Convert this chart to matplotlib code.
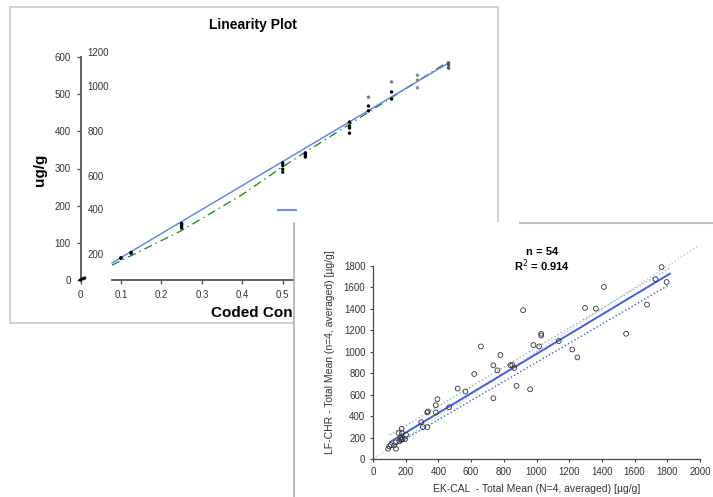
import numpy as np
import matplotlib.pyplot as plt
from matplotlib.patches import Rectangle
from matplotlib.lines import Line2D

# ---- panel 1: Linearity Plot ----
lin_conc = [0.0, 0.005, 0.01, 0.1, 0.1, 0.125, 0.125,
            0.25, 0.25, 0.25, 0.25,
            0.5, 0.5, 0.5, 0.5,
            0.556, 0.556, 0.556, 0.556,
            0.665, 0.665, 0.665, 0.665,
            0.712, 0.712, 0.712,
            0.769, 0.769, 0.769,
            0.833, 0.833, 0.833,
            0.91, 0.91, 0.91]
lin_resp = [0, 3, 5, 58, 60, 72, 74,
            140, 145, 150, 152,
            290, 298, 308, 315,
            331, 335, 338, 342,
            395, 409, 414, 425,
            455, 468, 492,
            487, 506, 533,
            517, 538, 551,
            570, 578, 584]
# first runs are black, the last replicates look grey in the picture
lin_shade = ['k'] * 23 + ['k', 'k', '#777777'] + ['k', 'k', '#777777'] + ['#888888'] * 3 + ['#555555'] * 3
lin_fit_x = [0.078, 0.91]
lin_fit_y = [46, 584]
quad_fit_x = [0.078, 0.25, 0.4, 0.5, 0.665, 0.91]
quad_fit_y = [40, 133, 230, 305, 419, 588]
lin_xticks = [0, 0.1, 0.2, 0.3, 0.4, 0.5, 0.6, 0.7, 0.8, 0.9, 1.0]
lin_yticks = [0, 100, 200, 300, 400, 500, 600]
sec_labels = ['1200', '1000', '800', '600', '400', '200']
sec_label_pos = [611, 519, 398, 277, 188, 67]

# ---- panel 2: method comparison ----
ek_cal = [1765, 1728, 1796, 1412, 1676, 1297, 1363, 918, 1548, 1029,
          1029, 1136, 981, 1016, 660, 1219, 1250, 779, 736, 841,
          761, 852, 864, 619, 878, 961, 736, 518, 565, 394,
          384, 466, 384, 336, 332, 295, 305, 332, 175, 177,
          202, 167, 181, 171, 161, 140, 130, 109, 99, 93,
          140, 175, 196, 157]
lf_chr = [1790, 1676, 1651, 1605, 1440, 1410, 1403, 1388, 1168, 1168,
          1152, 1100, 1063, 1050, 1050, 1022, 948, 970, 874, 874,
          827, 877, 849, 793, 682, 650, 567, 657, 629, 558,
          502, 483, 434, 443, 434, 344, 297, 297, 282, 242,
          226, 201, 186, 180, 164, 155, 127, 130, 118, 96,
          96, 180, 186, 242]
reg_x = [104, 1815]
reg_y = [158, 1728]
upper_y = [224, 1782]
lower_y = [103, 1628]
ident = [0, 1990]
cmp_ticks_x = list(range(0, 2001, 200))
cmp_ticks_y = list(range(0, 1801, 200))

W, H = 713, 497
fig = plt.figure(figsize=(W / 100, H / 100), dpi=100)
plt.rcParams['font.family'] = ['Liberation Sans', 'DejaVu Sans']


def fx(px):
    return px / W


def fy(py):
    return 1 - py / H


# panel 1 frame
fig.patches.append(Rectangle((fx(10), fy(323)), fx(488), 316 / H, transform=fig.transFigure,
                             facecolor='white', edgecolor='#c8c8c8', lw=1.2, zorder=-1))

ax1 = fig.add_axes([fx(80.5), fy(280), fx(404.5), 223 / H])
ax1.set_xlim(0, 1)
ax1.set_ylim(0, 600)
ax1.patch.set_alpha(0)
for s in ['top', 'right']:
    ax1.spines[s].set_visible(False)
ax1.spines['left'].set_color('#555555')
ax1.spines['bottom'].set_color('#555555')
ax1.spines['left'].set_linewidth(1.3)
ax1.spines['bottom'].set_linewidth(1.3)
ax1.spines['bottom'].set_bounds(0.078, 1.0)
ax1.set_xticks(lin_xticks)
ax1.set_xticklabels([('0' if t == 0 else f'{t:.1f}') for t in lin_xticks])
ax1.set_yticks(lin_yticks)
ax1.tick_params(axis='both', labelsize=7, colors='#555555', labelcolor='#3a3330',
                length=3, width=1, pad=4)

ax1.plot(quad_fit_x, quad_fit_y, color='#2a8a2a', ls=(0, (6, 3, 1, 3)), lw=1.0, zorder=2)
ax1.plot(lin_fit_x, lin_fit_y, color='#5b7cf5', lw=1.0, zorder=3)
ax1.scatter(lin_conc, lin_resp, s=6, c=lin_shade, marker='o', lw=0, zorder=4, clip_on=False)
ax1.plot([0.003, 0.012], [2, 6], color='#2a8a2a', lw=1, zorder=2)

for lab, yv in zip(sec_labels, sec_label_pos):
    ax1.text(0.018, yv, lab, fontsize=7, color='#333333', va='center', ha='left')

fig.text(fx(253), fy(25), 'Linearity Plot', fontsize=10, fontweight='bold', ha='center', va='center')
fig.text(fx(40), fy(170), 'ug/g', fontsize=11, fontweight='bold', rotation=90, ha='center', va='center')
xl1 = fig.text(fx(211), fy(313), 'Coded Concentration', fontsize=11, fontweight='bold',
               ha='left', va='center')
# the second screenshot hides the end of this label
xl1.set_clip_path(Rectangle((0, 0), fx(293), 1, transform=fig.transFigure))
fig.lines.append(Line2D([fx(278), fx(296)], [fy(210), fy(210)], transform=fig.transFigure,
                        color='#7090f0', lw=1.5))

# panel 2 frame (white sheet covering panel 1)
fig.patches.append(Rectangle((fx(294), 0), 1 - fx(294), 275 / H, transform=fig.transFigure,
                             facecolor='white', edgecolor='none', zorder=5))
fig.lines.append(Line2D([fx(294), fx(294)], [0, fy(223)], transform=fig.transFigure,
                        color='#b0b0b0', lw=1.2, zorder=6))
fig.lines.append(Line2D([fx(520), 1], [fy(222.5), fy(222.5)], transform=fig.transFigure,
                        color='#c0c0c0', lw=1.5, zorder=6))

ax2 = fig.add_axes([fx(373), 1 - 459 / H, fx(327), 214.4 / H], zorder=10)
ax2.set_xlim(0, 2000)
ax2.set_ylim(0, 2000)
ax2.patch.set_alpha(0)
for s in ['top', 'right']:
    ax2.spines[s].set_visible(False)
ax2.spines['left'].set_bounds(0, 1800)
ax2.spines['left'].set_color('#444444')
ax2.spines['bottom'].set_color('#444444')
ax2.spines['left'].set_linewidth(0.9)
ax2.spines['bottom'].set_linewidth(0.9)
ax2.set_xticks(cmp_ticks_x)
ax2.set_yticks(cmp_ticks_y)
ax2.tick_params(axis='both', labelsize=7, colors='#444444', labelcolor='#333333',
                length=2.5, width=0.8, pad=3)

ax2.plot(ident, ident, color='#c8c8c8', ls=':', lw=1.0, zorder=1, clip_on=False)
ax2.plot(reg_x, upper_y, color='#8fa8f0', ls=':', lw=1.0, zorder=2)
ax2.plot(reg_x, lower_y, color='#3b5bd8', ls=':', lw=1.0, zorder=2)
ax2.plot(reg_x, reg_y, color='#3f5fe8', lw=1.4, zorder=3)
ax2.scatter(ek_cal, lf_chr, s=12, facecolors='none', edgecolors='#333333', linewidths=0.6, zorder=4)

ax2.set_xlabel('EK-CAL  - Total Mean (N=4, averaged) [µg/g]', fontsize=7.5, color='#333333', labelpad=5)
ax2.set_ylabel('LF-CHR - Total Mean (n=4, averaged) [µg/g]', fontsize=7.5, color='#333333', labelpad=6)
fig.text(fx(542), fy(252), 'n = 54', fontsize=8, fontweight='bold', ha='center', va='center', zorder=11)
fig.text(fx(542), fy(266), 'R$^2$ = 0.914', fontsize=8, fontweight='bold', ha='center', va='center', zorder=11)

fig.savefig('out.png', dpi=100)
